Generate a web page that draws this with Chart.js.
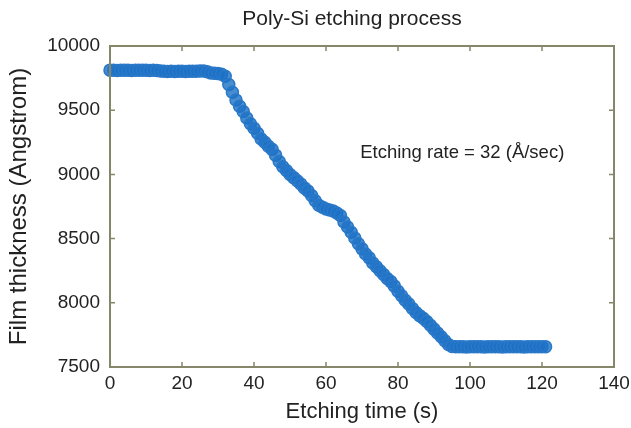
<!DOCTYPE html>
<html lang="en">
<head>
<meta charset="UTF-8">
<title>Poly-Si etching process</title>
<script src="https://cdn.jsdelivr.net/npm/chart.js"></script>
<style>
  html, body { margin: 0; padding: 0; background: #fff; }
  #wrap { width: 631px; height: 428px; }
</style>
</head>
<body>
<div id="wrap"><canvas id="etchChart" width="631" height="428"></canvas></div>
<script>
// etching time in seconds, one reading per second
const etchTime = [
  0, 1, 2, 3, 4, 5, 6, 7, 8, 9, 10, 11, 12, 13, 14, 15, 16, 17, 18, 19,
  20, 21, 22, 23, 24, 25, 26, 27, 28, 29, 30, 31, 32, 33, 34, 35, 36, 37, 38, 39,
  40, 41, 42, 43, 44, 45, 46, 47, 48, 49, 50, 51, 52, 53, 54, 55, 56, 57, 58, 59,
  60, 61, 62, 63, 64, 65, 66, 67, 68, 69, 70, 71, 72, 73, 74, 75, 76, 77, 78, 79,
  80, 81, 82, 83, 84, 85, 86, 87, 88, 89, 90, 91, 92, 93, 94, 95, 96, 97, 98, 99,
  100, 101, 102, 103, 104, 105, 106, 107, 108, 109, 110, 111, 112, 113, 114, 115,
  116, 117, 118, 119, 120, 121
];
// film thickness in Angstrom
const thickness = [
  9812, 9812, 9810, 9812, 9811, 9812, 9810, 9812, 9812, 9811, 9812, 9810, 9811, 9810, 9805, 9803, 9802, 9803, 9802, 9803,
  9803, 9802, 9803, 9804, 9803, 9805, 9806, 9800, 9790, 9788, 9785, 9780, 9765, 9700, 9640, 9580, 9530, 9490, 9440, 9395,
  9360, 9320, 9275, 9250, 9220, 9195, 9150, 9100, 9060, 9030, 9000, 8975, 8950, 8925, 8895, 8870, 8835, 8795, 8760, 8745,
  8730, 8722, 8715, 8700, 8680, 8630, 8590, 8550, 8505, 8460, 8420, 8380, 8350, 8310, 8280, 8250, 8220, 8190, 8165, 8130,
  8090, 8055, 8020, 7990, 7955, 7925, 7900, 7880, 7855, 7825, 7795, 7765, 7735, 7705, 7675, 7660, 7658, 7657, 7658, 7656,
  7658, 7657, 7658, 7658, 7656, 7657, 7658, 7657, 7658, 7656, 7658, 7657, 7658, 7658, 7657, 7656,
  7658, 7657, 7658, 7657, 7658, 7657
];
const xTicks = [0, 20, 40, 60, 80, 100, 120, 140];
const yTicks = [7500, 8000, 8500, 9000, 9500, 10000];

const chartTitle = 'Poly-Si etching process';
const rateNote = 'Etching rate = 32 (\u00C5/sec)';

const FONT = "'Liberation Sans', Arial, sans-serif";
const TEXT = '#222222';
const AXIS = '#86866a';

// frame, inward ticks, title and the note
const framePlugin = {
  id: 'framePlugin',
  afterDraw(chart) {
    const ctx = chart.ctx;
    const a = chart.chartArea;
    const xs = chart.scales.x, ys = chart.scales.y;
    ctx.save();
    ctx.strokeStyle = AXIS;
    ctx.lineWidth = 2;
    ctx.strokeRect(a.left, a.top, a.right - a.left, a.bottom - a.top);
    ctx.lineWidth = 1.5;
    ctx.beginPath();
    xTicks.forEach(v => {
      const px = xs.getPixelForValue(v);
      ctx.moveTo(px, a.bottom); ctx.lineTo(px, a.bottom - 5);
      ctx.moveTo(px, a.top); ctx.lineTo(px, a.top + 5);
    });
    yTicks.forEach(v => {
      const py = ys.getPixelForValue(v);
      ctx.moveTo(a.left, py); ctx.lineTo(a.left + 5, py);
      ctx.moveTo(a.right, py); ctx.lineTo(a.right - 5, py);
    });
    ctx.stroke();

    ctx.fillStyle = TEXT;
    ctx.font = '21px ' + FONT;
    ctx.textAlign = 'center';
    ctx.textBaseline = 'middle';
    ctx.fillText(chartTitle, 352, 19);

    ctx.font = '18.5px ' + FONT;
    ctx.textAlign = 'left';
    ctx.fillText(rateNote, xs.getPixelForValue(69.5), ys.getPixelForValue(9165));
    ctx.restore();
  }
};

const ctx = document.getElementById('etchChart').getContext('2d');
new Chart(ctx, {
  type: 'scatter',
  data: {
    datasets: [{
      label: 'Film thickness',
      data: etchTime.map((t, i) => ({ x: t, y: thickness[i] })),
      pointRadius: 6,
      pointBorderWidth: 1.5,
      borderColor: '#2a78c8',
      backgroundColor: 'rgba(28, 112, 198, 0.8)',
      clip: 8
    }]
  },
  options: {
    responsive: false,
    animation: false,
    devicePixelRatio: 1,
    layout: { padding: { top: 46, right: 17, left: 0, bottom: 0 } },
    plugins: {
      legend: { display: false },
      tooltip: { enabled: false },
      title: { display: false }
    },
    scales: {
      x: {
        type: 'linear',
        min: 0,
        max: 140,
        grid: { display: false, drawTicks: false },
        border: { display: false },
        afterBuildTicks: s => { s.ticks = xTicks.map(v => ({ value: v })); },
        afterFit: s => { s.height = 61; s.paddingLeft = 0; s.paddingRight = 0; },
        ticks: {
          color: TEXT, font: { family: FONT, size: 19 }, padding: 5, maxRotation: 0,
          callback: v => String(v)
        },
        title: {
          display: true,
          text: 'Etching time (s)',
          color: TEXT,
          font: { family: FONT, size: 22 },
          padding: { top: 0, bottom: 3 }
        }
      },
      y: {
        min: 7500,
        max: 10000,
        grid: { display: false, drawTicks: false },
        border: { display: false },
        afterBuildTicks: s => { s.ticks = yTicks.map(v => ({ value: v })); },
        afterFit: s => { s.width = 110; s.paddingTop = 0; s.paddingBottom = 0; },
        ticks: {
          color: TEXT, font: { family: FONT, size: 19 }, padding: 10,
          callback: v => String(v)
        },
        title: {
          display: true,
          text: 'Film thickness (Angstrom)',
          color: TEXT,
          font: { family: FONT, size: 24 },
          padding: { top: 5, bottom: 0 }
        }
      }
    }
  },
  plugins: [framePlugin]
});
</script>
</body>
</html>
